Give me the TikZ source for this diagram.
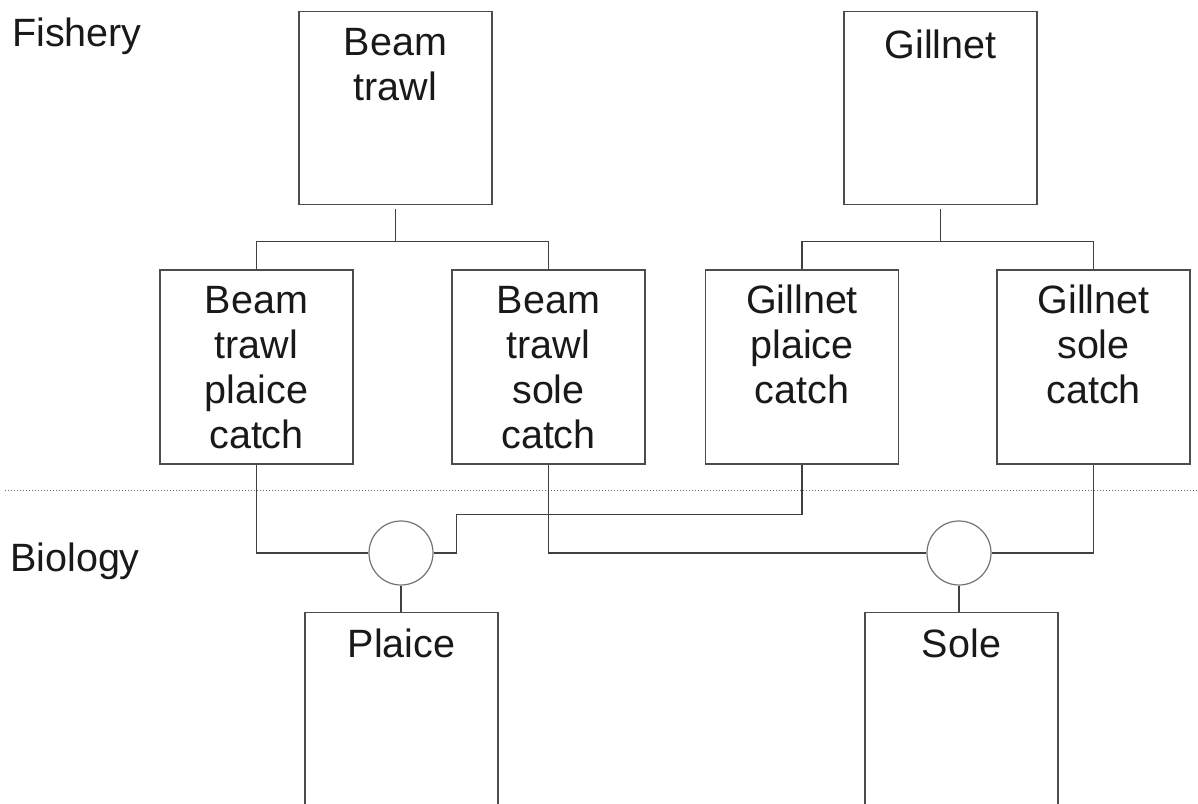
\documentclass[tikz,border=0pt]{standalone}
\usepackage{fontspec}
\setmainfont{Liberation Sans}
\begin{document}
\begin{tikzpicture}[x=1pt,y=-1pt,
  box/.style={draw=black!70,line width=1.2pt,rectangle,minimum width=193pt,minimum height=193pt,inner sep=0pt},
  lbl/.style={font=\fontsize{39.5}{45}\selectfont,align=center,inner sep=0pt,anchor=north,text=black!90,execute at begin node=\strut},
  side/.style={font=\fontsize{39.5}{45}\selectfont,inner sep=0pt,anchor=base west,text=black!90},
  conn/.style={draw=black!75,line width=1.2pt},
  joincirc/.style={draw=black!55,line width=1.2pt,circle,minimum size=64pt,inner sep=0pt}]
\useasboundingbox (0,0) rectangle (1198,803);
\clip (0,0) rectangle (1198,803);
% fishery level
\node[box] (bt) at (395.5,108) {};
\node[box] (gn) at (940.5,108) {};
\node[lbl] (btt) at ([yshift=-17pt]bt.north) {Beam\\trawl};
\node[lbl] (gnt) at ([yshift=-16pt]gn.north) {Gillnet};
% catch level
\node[box,minimum height=194pt] (btp) at (256.5,367) {};
\node[box,minimum height=194pt] (bts) at (548.5,367) {};
\node[box,minimum height=194pt] (gp) at (802,367) {};
\node[box,minimum height=194pt] (gs) at (1093.5,367) {};
\node[lbl] (btpt) at ([yshift=-17pt]btp.north) {Beam\\trawl\\plaice\\catch};
\node[lbl] (btst) at ([yshift=-17pt]bts.north) {Beam\\trawl\\sole\\catch};
\node[lbl] (gpt) at ([yshift=-15pt]gp.north) {Gillnet\\plaice\\catch};
\node[lbl] (gst) at ([yshift=-15pt]gs.north) {Gillnet\\sole\\catch};
% side labels
\node[side] (fish) at (12,46) {Fishery};
\node[side] (bio) at (10,571) {Biology};
% divider
\coordinate (dl) at (5,490);
\coordinate (dr) at (1198,490);
\draw[black!60,dotted,line width=1pt] (dl) -- (dr);
% biology level
\node[joincirc] (pc) at (401,553) {};
\node[joincirc] (sc) at (959,553) {};
\node[box,minimum height=220pt,anchor=north] (pl) at (401.5,612) {};
\node[box,minimum height=220pt,anchor=north] (so) at (961.5,612) {};
\node[lbl] (plt) at ([yshift=-14pt]pl.north) {Plaice};
\node[lbl] (sot) at ([yshift=-14pt]so.north) {Sole};
% tree connectors
\draw[conn] ([yshift=-4pt]bt.south) -- ++(0,32) coordinate (bj);
\draw[conn] (btp.north) |- (bj) -| (bts.north);
\draw[conn] ([yshift=-4pt]gn.south) -- ++(0,32) coordinate (gj);
\draw[conn] (gp.north) |- (gj) -| (gs.north);
% catch to biology connectors
\draw[conn] (btp.south) |- (pc.west);
\draw[conn] (pc.east) -- ++(23,0) coordinate (pk) |- ([yshift=-50pt]gp.south) -- (gp.south);
\draw[conn] (bts.south) |- (sc.west);
\draw[conn] (gs.south) |- (sc.east);
\draw[conn] (pc.south) -- (pc.south |- pl.north);
\draw[conn] (sc.south) -- (sc.south |- so.north);
\end{tikzpicture}
\end{document}
